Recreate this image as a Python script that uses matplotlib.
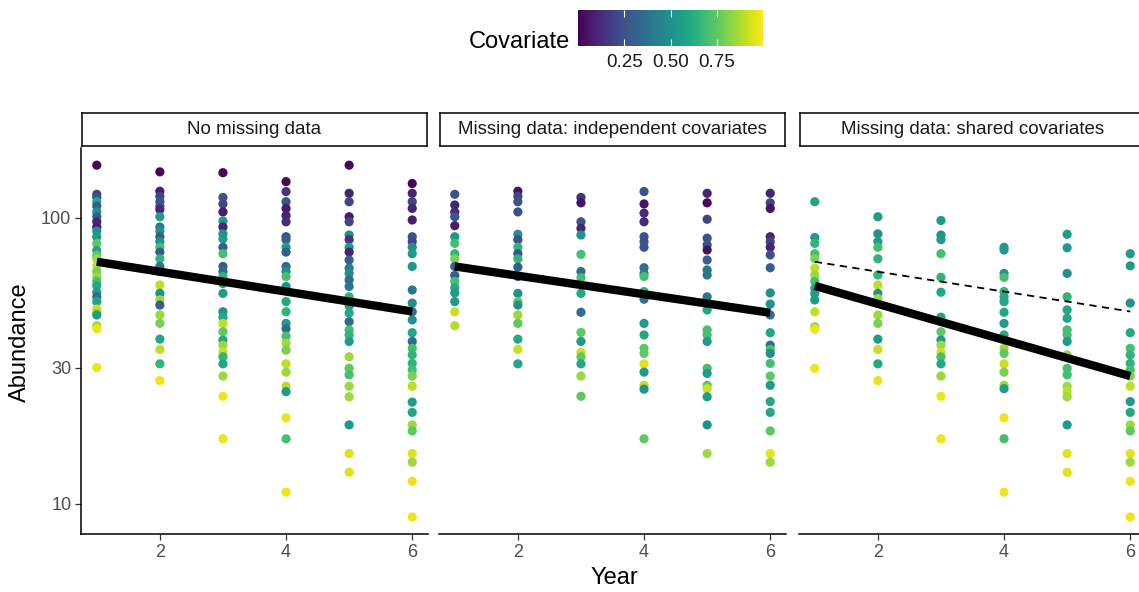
import matplotlib
matplotlib.use("Agg")
import matplotlib.pyplot as plt
from matplotlib import cm, colors

plt.rcParams['font.family'] = ['Liberation Sans', 'DejaVu Sans']

years = [1, 2, 3, 4, 5, 6]
panel_titles = ["No missing data", "Missing data: independent covariates",
                "Missing data: shared covariates"]

# abundance and covariate per year (one inner list per year)
full_abund = [
    [153, 121, 118, 114, 110, 105, 101, 97, 93, 90, 86, 81.5, 77, 74, 72, 68, 65, 62, 60, 58, 55, 53, 51, 48, 46.5, 45.8, 42, 41, 30],
    [145, 124, 119, 114, 110, 107, 101, 93, 90, 86, 82.6, 79, 76, 72, 67.7, 65, 58.3, 54.5, 51.7, 49.6, 45.8, 42.8, 37.7, 34.7, 30.9, 27],
    [144, 118, 112, 105, 97.6, 93, 88, 84.5, 79, 75, 67.7, 65, 62.4, 59, 54.5, 47, 45, 42.8, 40, 37.4, 35.9, 34, 32.7, 30.9, 28, 23.8, 16.9],
    [134, 123.7, 114, 108, 102, 97, 86, 84, 79, 76, 67.7, 65, 62.4, 57.6, 51, 47, 42.8, 41, 38.6, 36.5, 34.5, 30.9, 28.9, 25.8, 24.7, 20, 16.9, 11],
    [153, 122, 114, 101, 97, 87.2, 84, 79, 76, 71.3, 66.8, 64, 60.7, 57.6, 53, 49.2, 46.5, 43.4, 40.6, 39, 37, 32.7, 29.8, 28.3, 25.8, 23.7, 18.9, 15, 12.9],
    [132, 122, 114, 108, 98.4, 86, 82.6, 79, 75, 67.7, 56, 50.4, 47, 44, 39.7, 37, 35, 33.2, 31, 29.4, 28, 25.8, 22.7, 20.9, 18.9, 18, 15, 14, 12, 9],
]
full_cov = [
    [0.02, 0.2, 0.25, 0.6, 0.3, 0.5, 0.3, 0.1, 0.08, 0.5, 0.55, 0.75, 0.6, 0.75, 0.85, 0.92, 0.8, 0.85, 0.7, 0.6, 0.55, 0.35, 0.6, 0.92, 0.85, 0.55, 0.85, 0.97, 0.97],
    [0.02, 0.08, 0.2, 0.25, 0.25, 0.1, 0.55, 0.4, 0.5, 0.3, 0.5, 0.7, 0.3, 0.65, 0.4, 0.5, 0.9, 0.5, 0.85, 0.3, 0.85, 0.8, 0.6, 0.9, 0.65, 0.97],
    [0.02, 0.25, 0.2, 0.08, 0.55, 0.1, 0.5, 0.55, 0.3, 0.7, 0.3, 0.35, 0.65, 0.55, 0.55, 0.5, 0.6, 0.9, 0.75, 0.6, 0.85, 0.92, 0.65, 0.6, 0.85, 0.97, 0.97],
    [0.02, 0.15, 0.25, 0.08, 0.1, 0.12, 0.25, 0.3, 0.55, 0.3, 0.35, 0.5, 0.7, 0.5, 0.6, 0.65, 0.55, 0.35, 0.7, 0.85, 0.8, 0.9, 0.85, 0.88, 0.55, 0.97, 0.7, 0.97],
    [0.02, 0.1, 0.2, 0.08, 0.2, 0.5, 0.15, 0.55, 0.1, 0.3, 0.4, 0.5, 0.35, 0.4, 0.65, 0.55, 0.6, 0.35, 0.7, 0.65, 0.55, 0.85, 0.75, 0.7, 0.85, 0.85, 0.55, 0.95, 0.95],
    [0.02, 0.1, 0.2, 0.1, 0.08, 0.25, 0.2, 0.5, 0.55, 0.55, 0.4, 0.5, 0.35, 0.5, 0.6, 0.35, 0.7, 0.65, 0.65, 0.7, 0.8, 0.9, 0.55, 0.6, 0.85, 0.75, 0.95, 0.85, 0.97, 0.97],
]

indep_abund = [
    [121, 111, 105, 101, 94, 86, 81.5, 75, 72, 67.7, 63, 60, 57, 54.7, 51, 47, 42],
    [124, 119, 114, 105, 87.7, 84, 79, 75, 72, 67.3, 62.4, 54.5, 51, 49.6, 45.8, 42.8, 37.7, 34.7, 30.9],
    [118, 113, 97, 92, 87.2, 74.6, 65, 61.8, 54.5, 46.8, 39.8, 37, 33.9, 32.7, 30.9, 28, 23.8],
    [123.7, 112, 104, 97, 86, 82.6, 79, 67, 64, 62.4, 55.3, 52, 42.8, 39, 35, 33.6, 30.9, 28.9, 26, 25.2, 16.9],
    [122, 113, 99, 85, 80.5, 77.3, 71.3, 65.8, 63.2, 53, 47.7, 40.6, 39, 37, 29.8, 28.6, 26, 25.3, 23.7, 18.9, 15],
    [122, 113, 108, 86, 82.6, 79, 74.3, 67, 54.7, 50, 45.8, 39.7, 35.9, 34.7, 33.6, 31, 28, 26, 22.8, 20.9, 18, 15, 14],
]
indep_cov = [
    [0.25, 0.1, 0.12, 0.25, 0.08, 0.55, 0.7, 0.65, 0.8, 0.3, 0.3, 0.7, 0.6, 0.55, 0.55, 0.92, 0.88],
    [0.05, 0.2, 0.25, 0.25, 0.5, 0.25, 0.65, 0.25, 0.65, 0.3, 0.3, 0.5, 0.75, 0.5, 0.85, 0.75, 0.6, 0.92, 0.6],
    [0.15, 0.05, 0.25, 0.1, 0.5, 0.7, 0.35, 0.7, 0.6, 0.35, 0.75, 0.55, 0.92, 0.75, 0.6, 0.85, 0.75],
    [0.25, 0.05, 0.12, 0.12, 0.25, 0.25, 0.25, 0.35, 0.4, 0.7, 0.65, 0.35, 0.55, 0.6, 0.75, 0.75, 0.95, 0.55, 0.9, 0.5, 0.75],
    [0.1, 0.02, 0.2, 0.25, 0.25, 0.05, 0.3, 0.4, 0.4, 0.4, 0.6, 0.7, 0.7, 0.55, 0.7, 0.55, 0.75, 0.92, 0.55, 0.5, 0.85],
    [0.1, 0.2, 0.05, 0.1, 0.2, 0.1, 0.25, 0.3, 0.5, 0.5, 0.35, 0.6, 0.35, 0.7, 0.5, 0.7, 0.75, 0.55, 0.6, 0.6, 0.75, 0.95, 0.85],
]

shared_abund = [
    [114, 85.5, 81.5, 75, 72, 66.8, 63.2, 60, 56.8, 54.5, 51.7, 47, 41.7, 40.8, 29.8],
    [101, 88, 82.6, 79, 72, 63.2, 58.3, 54.5, 52.3, 45.8, 42.8, 37.7, 34.7, 30.9, 27],
    [98, 87.2, 84, 75, 62, 55, 45, 40, 37.4, 35.9, 33.9, 32.7, 30.9, 28, 23.8, 16.9],
    [79, 77.3, 64, 62, 55.3, 53, 51, 46.8, 42.8, 39, 35, 33.6, 30.9, 28.9, 26, 25.3, 20, 16.9, 11],
    [87.7, 78.7, 64, 53, 47.7, 44.6, 40.6, 39, 37, 33.2, 29.8, 28.3, 25.8, 24.7, 23.7, 18.9, 15, 12.9],
    [75, 68, 50.4, 39.7, 35, 33.2, 31, 29.4, 28, 25.8, 22.8, 20.9, 18.9, 18, 15, 14, 12, 9],
]
shared_cov = [
    [0.58, 0.55, 0.65, 0.7, 0.8, 0.9, 0.85, 0.7, 0.6, 0.55, 0.55, 0.9, 0.85, 0.97, 0.97],
    [0.55, 0.5, 0.55, 0.7, 0.65, 0.65, 0.9, 0.5, 0.85, 0.85, 0.8, 0.55, 0.92, 0.6, 0.97],
    [0.55, 0.5, 0.55, 0.7, 0.65, 0.6, 0.6, 0.75, 0.55, 0.85, 0.92, 0.7, 0.6, 0.85, 0.97, 0.97],
    [0.55, 0.55, 0.5, 0.7, 0.65, 0.6, 0.6, 0.6, 0.55, 0.6, 0.85, 0.75, 0.92, 0.8, 0.85, 0.55, 0.97, 0.7, 0.97],
    [0.55, 0.55, 0.5, 0.65, 0.6, 0.6, 0.7, 0.7, 0.55, 0.85, 0.7, 0.7, 0.85, 0.9, 0.85, 0.55, 0.95, 0.95],
    [0.55, 0.55, 0.5, 0.6, 0.7, 0.65, 0.65, 0.7, 0.8, 0.9, 0.55, 0.6, 0.85, 0.75, 0.95, 0.85, 0.97, 0.97],
]

# fitted trends (start year 1, end year 6)
trend_years = [1, 6]
trend_full = [70.3, 47.1]
trend_indep = [67.7, 46.6]
trend_shared = [57.9, 28.0]

W, H = 1139, 592
fig = plt.figure(figsize=(W / 100, H / 100), dpi=100)
norm = colors.Normalize(vmin=0, vmax=1)
cmap = plt.get_cmap('viridis')
grey = '#4D4D4D'

panel_left = [81, 439, 799]
panel_w = 347
panel_top, panel_bot = 148, 534
strip_top, strip_bot = 113, 146

datasets = [(full_abund, full_cov, trend_full),
            (indep_abund, indep_cov, trend_indep),
            (shared_abund, shared_cov, trend_shared)]

for i, (abund, cov, trend) in enumerate(datasets):
    ax = fig.add_axes([panel_left[i] / W, 1 - panel_bot / H,
                       panel_w / W, (panel_bot - panel_top) / H])
    for yr, a, c in zip(years, abund, cov):
        ax.scatter([yr] * len(a), a, c=c, cmap=cmap, norm=norm,
                   s=44, linewidths=0, zorder=2)
    if i == 2:
        # the complete-data trend, for comparison
        ax.plot(trend_years, trend_full, color='black', lw=1.3,
                ls=(0, (4, 3)), zorder=3)
    ax.plot(trend_years, trend, color='black', lw=6,
            solid_capstyle='butt', zorder=4)
    ax.set_yscale('log')
    ax.set_ylim(7.85, 175.7)
    ax.set_xlim(0.75, 6.25)
    ax.set_xticks([2, 4, 6])
    ax.set_yticks([10, 30, 100])
    ax.set_yticklabels(['10', '30', '100'])
    ax.yaxis.set_minor_locator(matplotlib.ticker.NullLocator())
    ax.tick_params(colors='#333333', labelcolor=grey, labelsize=13,
                   length=4, width=0.9, pad=3)
    for s in ['top', 'right']:
        ax.spines[s].set_visible(False)
    ax.spines['bottom'].set_linewidth(1.1)
    ax.spines['left'].set_linewidth(1.1)
    if i > 0:
        ax.spines['left'].set_visible(False)
        ax.tick_params(axis='y', left=False, labelleft=False)
    ax.patch.set_alpha(0)

    sax = fig.add_axes([(panel_left[i] + 1) / W, 1 - strip_bot / H,
                        (panel_w - 2) / W, (strip_bot - strip_top) / H])
    sax.set_xticks([])
    sax.set_yticks([])
    for s in sax.spines.values():
        s.set_linewidth(1.1)
    sax.text(0.5, 0.5, panel_titles[i], ha='center', va='center',
             fontsize=13.5, color='#1A1A1A', transform=sax.transAxes)

fig.text(20 / W, 1 - 342 / H, 'Abundance', ha='center', va='center',
         rotation=90, fontsize=17)
fig.text(614 / W, 1 - 578 / H, 'Year', ha='center', va='center', fontsize=17)

# colourbar legend at the top
cax = fig.add_axes([578 / W, 1 - 46 / H, 185 / W, 36 / H])
cb = fig.colorbar(cm.ScalarMappable(norm=norm, cmap=cmap), cax=cax,
                  orientation='horizontal', ticks=[0.25, 0.5, 0.75])
cb.outline.set_visible(False)
cb.ax.set_xticklabels(['0.25', '0.50', '0.75'])
cax.xaxis.set_ticks_position('both')
cax.tick_params(axis='x', direction='in', color='white', length=5, width=0.8,
                labelcolor='#1A1A1A', labelsize=13.5, labeltop=False,
                labelbottom=True, pad=6)
fig.text(570 / W, 1 - 42 / H, 'Covariate', ha='right', va='center', fontsize=17)

fig.savefig('out.png', dpi=100)
